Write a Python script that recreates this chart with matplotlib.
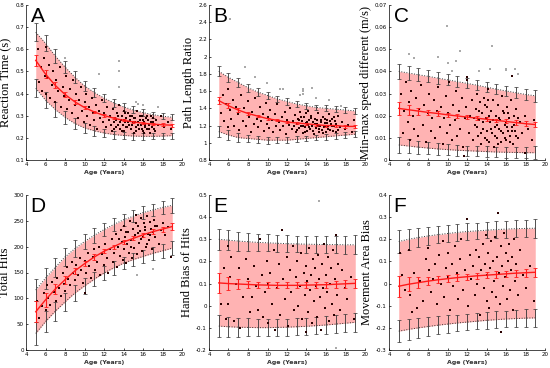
import numpy as np
import matplotlib
matplotlib.use('Agg')
import matplotlib.pyplot as plt

# ================= DATA =================
ages = [5, 6, 7, 8, 9, 10, 11, 12, 13, 14, 15, 16, 17, 18, 19]

# --- A: Reaction time ---
A_up = [0.677, 0.627, 0.57, 0.52, 0.475, 0.435, 0.405, 0.38, 0.358, 0.34, 0.326, 0.314, 0.305, 0.298, 0.293]
A_mean = [0.55, 0.488, 0.437, 0.396, 0.363, 0.337, 0.317, 0.301, 0.289, 0.279, 0.272, 0.266, 0.262, 0.259, 0.257]
A_low = [0.424, 0.37, 0.328, 0.293, 0.265, 0.245, 0.232, 0.222, 0.215, 0.211, 0.208, 0.207, 0.207, 0.208, 0.21]
A_band_err = [0.040, 0.036, 0.032, 0.029, 0.026, 0.024, 0.022, 0.020, 0.018, 0.017, 0.016, 0.015, 0.014, 0.014, 0.013]
A_mean_err = [0.025, 0.018, 0.013, 0.010, 0.008, 0.007, 0.006, 0.006, 0.005, 0.005, 0.005, 0.005, 0.005, 0.006, 0.007]
A_x = [5.2, 5.3, 5.5, 5.6, 5.8, 5.9, 6.0, 6.1, 6.2, 6.4, 6.5, 6.7, 6.8, 7.0, 7.1, 7.3, 7.5, 7.6, 7.8, 7.9,
       8.1, 8.2, 8.4, 8.5, 8.7, 8.8, 9.0, 9.1, 9.3, 9.4, 9.6, 9.7, 9.9, 10.0, 10.2, 10.3, 10.5, 10.6, 10.8, 10.9,
       11.0, 11.2, 11.3, 11.5, 11.6, 11.8, 11.9, 12.0, 12.2, 12.3, 12.5, 12.6, 12.8, 12.9, 13.0, 13.1, 13.2, 13.3,
       13.4, 13.5, 13.6, 13.7, 13.8, 13.9, 14.0, 14.1, 14.2, 14.3, 14.4, 14.5, 14.6, 14.7, 14.8, 14.9, 15.0, 15.1,
       15.2, 15.3, 15.4, 15.5, 15.6, 15.7, 15.8, 15.9, 16.0, 16.1, 16.2, 16.3, 16.4, 16.5, 16.6, 16.7, 16.8, 16.9,
       17.0, 17.1, 17.3, 17.5, 17.8, 18.2, 18.6, 18.9,
       12.7, 13.05, 13.25, 13.45, 13.65, 13.85, 14.05, 14.25, 14.45, 14.65, 14.85, 15.05, 15.25, 15.45, 15.65,
       15.85, 16.05, 16.25, 16.45, 16.65, 16.85, 17.05, 17.25, 14.15, 15.15, 16.15]
A_y = [0.60, 0.45, 0.52, 0.41, 0.56, 0.48, 0.61, 0.40, 0.47, 0.53, 0.38, 0.44, 0.50, 0.36, 0.46, 0.41, 0.52, 0.34, 0.43, 0.39,
       0.48, 0.33, 0.37, 0.42, 0.31, 0.46, 0.35, 0.40, 0.29, 0.37, 0.43, 0.32, 0.27, 0.36, 0.40, 0.30, 0.34, 0.26, 0.38, 0.31,
       0.28, 0.35, 0.24, 0.32, 0.29, 0.37, 0.27, 0.31, 0.25, 0.34, 0.28, 0.30, 0.23, 0.33, 0.27, 0.29, 0.25, 0.31,
       0.26, 0.35, 0.24, 0.28, 0.30, 0.26, 0.32, 0.23, 0.27, 0.29, 0.25, 0.31, 0.26, 0.28, 0.24, 0.30, 0.27, 0.22,
       0.29, 0.25, 0.32, 0.27, 0.24, 0.28, 0.26, 0.30, 0.23, 0.27, 0.25, 0.29, 0.24, 0.28, 0.26, 0.22, 0.30, 0.25,
       0.27, 0.24, 0.28, 0.26, 0.30, 0.25, 0.27, 0.24,
       0.26, 0.24, 0.28, 0.30, 0.27, 0.23, 0.28, 0.25, 0.27, 0.30, 0.26, 0.29, 0.23, 0.26, 0.30,
       0.24, 0.28, 0.26, 0.30, 0.24, 0.27, 0.29, 0.23, 0.31, 0.27, 0.22]
A_out_x = [8.0, 11.5, 13.5, 13.5, 13.5, 15.3, 15.5, 16.0, 17.5]
A_out_y = [0.56, 0.49, 0.545, 0.50, 0.43, 0.36, 0.355, 0.35, 0.34]

# --- B: Path length ratio ---
B_up = [1.83, 1.76, 1.70, 1.64, 1.59, 1.55, 1.51, 1.48, 1.45, 1.43, 1.41, 1.40, 1.39, 1.38, 1.37]
B_mean = [1.49, 1.43, 1.38, 1.34, 1.31, 1.28, 1.26, 1.24, 1.23, 1.22, 1.21, 1.20, 1.20, 1.19, 1.19]
B_low = [1.13, 1.09, 1.06, 1.05, 1.04, 1.03, 1.03, 1.03, 1.04, 1.05, 1.06, 1.07, 1.08, 1.09, 1.10]
B_band_err = [0.06, 0.055, 0.05, 0.045, 0.042, 0.04, 0.038, 0.036, 0.035, 0.034, 0.033, 0.033, 0.033, 0.034, 0.035]
B_mean_err = [0.04, 0.03, 0.022, 0.017, 0.014, 0.012, 0.011, 0.010, 0.010, 0.010, 0.010, 0.011, 0.012, 0.014, 0.016]
B_x = [5.2, 5.4, 5.5, 5.7, 5.9, 6.0, 6.2, 6.3, 6.5, 6.6, 6.8, 7.0, 7.1, 7.3, 7.5, 7.6, 7.8, 8.0, 8.1, 8.3,
       8.4, 8.6, 8.7, 8.9, 9.0, 9.2, 9.3, 9.5, 9.6, 9.8, 9.9, 10.0, 10.2, 10.3, 10.5, 10.6, 10.8, 10.9, 11.0, 11.2,
       11.3, 11.5, 11.6, 11.8, 11.9, 12.0, 12.2, 12.3, 12.5, 12.6, 12.8, 12.9, 13.0, 13.1, 13.2, 13.3, 13.4, 13.5,
       13.6, 13.7, 13.8, 13.9, 14.0, 14.1, 14.2, 14.3, 14.4, 14.5, 14.6, 14.7, 14.8, 14.9, 15.0, 15.1, 15.2, 15.3,
       15.4, 15.5, 15.6, 15.7, 15.8, 15.9, 16.0, 16.1, 16.2, 16.3, 16.4, 16.5, 16.6, 16.7, 16.8, 16.9, 17.0, 17.2,
       17.4, 17.6, 17.9, 18.3, 18.7, 18.9,
       12.7, 13.05, 13.25, 13.45, 13.65, 13.85, 14.05, 14.25, 14.45, 14.65, 14.85, 15.05, 15.25, 15.45, 15.65,
       15.85, 16.05, 16.25, 16.45, 16.65, 16.85, 17.05, 17.25, 14.15, 15.15, 16.15]
B_y = [1.35, 1.55, 1.25, 1.45, 1.18, 1.62, 1.38, 1.28, 1.50, 1.20, 1.42, 1.33, 1.15, 1.55, 1.25, 1.40, 1.20, 1.48, 1.30, 1.12,
       1.36, 1.22, 1.52, 1.28, 1.18, 1.42, 1.25, 1.33, 1.14, 1.46, 1.22, 1.30, 1.17, 1.38, 1.26, 1.12, 1.33, 1.20, 1.45, 1.24,
       1.15, 1.30, 1.19, 1.36, 1.10, 1.27, 1.21, 1.40, 1.16, 1.25, 1.32, 1.12, 1.22, 1.28, 1.17, 1.36, 1.20, 1.25,
       1.11, 1.30, 1.18, 1.23, 1.34, 1.14, 1.21, 1.27, 1.16, 1.31, 1.19, 1.24, 1.10, 1.28, 1.17, 1.22, 1.35, 1.13,
       1.20, 1.26, 1.15, 1.30, 1.18, 1.23, 1.12, 1.27, 1.19, 1.33, 1.15, 1.22, 1.28, 1.14, 1.20, 1.25, 1.13, 1.31,
       1.18, 1.24, 1.16, 1.21, 1.13, 1.26,
       1.20, 1.15, 1.26, 1.30, 1.19, 1.13, 1.24, 1.18, 1.29, 1.14, 1.22, 1.27, 1.16, 1.24, 1.11,
       1.28, 1.20, 1.16, 1.25, 1.19, 1.30, 1.22, 1.15, 1.37, 1.19, 1.23]
B_out_x = [6.2, 7.7, 8.7, 9.9, 11.3, 11.6, 13.3, 13.6, 13.6, 13.6, 14.6, 16.3, 17.5, 15.0]
B_out_y = [2.44, 1.88, 1.76, 1.69, 1.63, 1.63, 1.55, 1.62, 1.60, 1.57, 1.64, 1.50, 1.43, 1.52]

# --- C: Min-max speed difference ---
C_up = [0.040, 0.0393, 0.0385, 0.0378, 0.0370, 0.0362, 0.0354, 0.0346, 0.0338, 0.0329, 0.0320, 0.0312, 0.0304, 0.0296, 0.0290]
C_mean = [0.0233, 0.0227, 0.0221, 0.0215, 0.0210, 0.0204, 0.0199, 0.0194, 0.0189, 0.0184, 0.0179, 0.0174, 0.0169, 0.0164, 0.0160]
C_low = [0.0068, 0.0063, 0.0058, 0.0054, 0.0050, 0.0047, 0.0044, 0.0042, 0.0040, 0.0038, 0.0036, 0.0035, 0.0034, 0.0033, 0.0033]
C_band_err = [0.0035, 0.0033, 0.003, 0.0028, 0.0026, 0.0025, 0.0024, 0.0023, 0.0023, 0.0023, 0.0023, 0.0024, 0.0025, 0.0026, 0.0028]
C_mean_err = [0.003, 0.0022, 0.0016, 0.0012, 0.001, 0.0009, 0.0008, 0.0008, 0.0008, 0.0008, 0.0008, 0.0009, 0.001, 0.0011, 0.0013]
C_x = [5.2, 5.4, 5.5, 5.7, 5.9, 6.0, 6.2, 6.3, 6.5, 6.6, 6.8, 7.0, 7.1, 7.3, 7.5, 7.6, 7.8, 8.0, 8.1, 8.3,
       8.4, 8.6, 8.7, 8.9, 9.0, 9.2, 9.3, 9.5, 9.6, 9.8, 9.9, 10.0, 10.2, 10.3, 10.5, 10.6, 10.8, 10.9, 11.0, 11.2,
       11.3, 11.5, 11.6, 11.8, 11.9, 12.0, 12.2, 12.3, 12.5, 12.6, 12.8, 12.9, 13.0, 13.1, 13.2, 13.3, 13.4, 13.5,
       13.6, 13.7, 13.8, 13.9, 14.0, 14.1, 14.2, 14.3, 14.4, 14.5, 14.6, 14.7, 14.8, 14.9, 15.0, 15.1, 15.2, 15.3,
       15.4, 15.5, 15.6, 15.7, 15.8, 15.9, 16.0, 16.1, 16.2, 16.3, 16.4, 16.5, 16.6, 16.7, 16.8, 16.9, 17.0, 17.2,
       17.4, 17.6, 17.9, 18.3, 18.7, 18.9,
       12.7, 13.05, 13.25, 13.45, 13.65, 13.85, 14.05, 14.25, 14.45, 14.65, 14.85, 15.05, 15.25, 15.45, 15.65,
       15.85, 16.05, 16.25, 16.45, 16.65, 16.85, 17.05, 17.25, 14.15, 15.15, 16.15, 11.7, 17.9, 12.0, 16.6]
C_y = [0.030, 0.012, 0.022, 0.035, 0.017, 0.026, 0.009, 0.031, 0.020, 0.014, 0.028, 0.011, 0.023, 0.034, 0.016, 0.025, 0.008, 0.021, 0.030, 0.013,
       0.019, 0.027, 0.010, 0.022, 0.033, 0.015, 0.024, 0.007, 0.019, 0.029, 0.012, 0.021, 0.035, 0.016, 0.009, 0.025, 0.018, 0.031, 0.011, 0.022,
       0.014, 0.028, 0.006, 0.019, 0.024, 0.036, 0.012, 0.020, 0.027, 0.009, 0.016, 0.023, 0.030, 0.011, 0.018, 0.026, 0.007, 0.021,
       0.014, 0.028, 0.010, 0.019, 0.024, 0.013, 0.032, 0.008, 0.017, 0.022, 0.012, 0.027, 0.006, 0.015, 0.020, 0.010, 0.025, 0.014,
       0.018, 0.008, 0.029, 0.012, 0.021, 0.016, 0.009, 0.024, 0.013, 0.019, 0.011, 0.027, 0.015, 0.007, 0.020, 0.013, 0.023, 0.010,
       0.017, 0.012, 0.020, 0.014, 0.009, 0.018,
       0.019, 0.015, 0.022, 0.012, 0.017, 0.025, 0.009, 0.020, 0.014, 0.018, 0.011, 0.016, 0.019, 0.013, 0.022,
       0.010, 0.017, 0.021, 0.008, 0.013, 0.016, 0.011, 0.019, 0.027, 0.007, 0.015, 0.002, 0.003, 0.0375, 0.038]
C_out_x = [6.0, 6.6, 9.0, 9.9, 10.0, 10.9, 11.3, 10.5, 13.2, 14.4, 14.6, 16.0, 16.0, 16.9, 17.2]
C_out_y = [0.048, 0.046, 0.0465, 0.0605, 0.044, 0.0445, 0.049, 0.040, 0.040, 0.041, 0.0515, 0.041, 0.0405, 0.041, 0.039]

# --- D: Total hits ---
D_up = [116, 139, 160, 180, 196, 210, 222, 233, 243, 252, 259, 266, 271, 276, 280]
D_mean = [74, 97, 118, 136, 153, 167, 180, 191, 200, 209, 216, 223, 229, 234, 239]
D_low = [32, 55, 75, 93, 110, 124, 137, 149, 159, 168, 175, 181, 187, 192, 197]
D_band_err = [22, 20, 18, 17, 16, 15, 14, 13, 13, 12, 12, 12, 12, 13, 14]
D_mean_err = [20, 14, 10, 8, 6, 5, 5, 4, 4, 4, 4, 4, 5, 5, 6]
D_x = [5.1, 5.3, 5.6, 5.8, 6.0, 6.2, 6.3, 6.5, 6.7, 6.9, 7.1, 7.2, 7.4, 7.6, 7.8, 7.9, 8.0, 8.2, 8.3, 8.5,
       8.7, 8.8, 9.0, 9.1, 9.3, 9.5, 9.6, 9.8, 10.0, 10.1, 10.2, 10.4, 10.5, 10.7, 10.9, 11.0, 11.1, 11.3, 11.5, 11.6,
       11.8, 12.0, 12.1, 12.3, 12.4, 12.6, 12.8, 12.9, 13.0, 13.2, 13.3, 13.4, 13.6, 13.7, 13.8, 13.9, 14.0, 14.1,
       14.2, 14.3, 14.4, 14.5, 14.6, 14.7, 14.8, 14.9, 15.0, 15.1, 15.2, 15.3, 15.4, 15.5, 15.6, 15.7, 15.8, 15.9,
       16.0, 16.1, 16.2, 16.3, 16.4, 16.5, 16.6, 16.7, 16.8, 16.9, 17.0, 17.1, 17.2, 17.4, 17.6, 17.8, 18.0, 18.3,
       18.6, 18.9, 13.5, 14.25, 14.75, 15.25, 15.75, 16.25, 16.75, 17.25, 15.45, 16.45]
D_y = [95, 62, 85, 110, 78, 125, 100, 88, 132, 112, 95, 140, 120, 105, 150, 128, 115, 160, 138, 125,
       170, 150, 135, 165, 145, 178, 155, 130, 172, 110, 150, 188, 162, 140, 180, 195, 155, 170, 200, 145,
       185, 165, 205, 178, 150, 195, 215, 170, 188, 225, 160, 200, 182, 232, 210, 175, 195, 240,
       218, 168, 205, 228, 188, 250, 212, 178, 235, 198, 222, 262, 185, 240, 208, 230, 255, 192,
       218, 245, 232, 200, 260, 225, 212, 248, 235, 195, 228, 252, 218, 240, 205, 232, 245, 222,
       238, 180, 215, 228, 200, 245, 215, 238, 222, 240, 226, 205]
D_out_x = [15.4, 17.0]
D_out_y = [145, 157]

# --- E: Hand bias of hits ---
E_up = [0.300, 0.296, 0.292, 0.289, 0.286, 0.284, 0.282, 0.280, 0.279, 0.278, 0.277, 0.276, 0.276, 0.275, 0.275]
E_mean = [0.103, 0.100, 0.098, 0.096, 0.094, 0.093, 0.092, 0.092, 0.092, 0.093, 0.094, 0.095, 0.097, 0.099, 0.101]
E_low = [-0.092, -0.095, -0.097, -0.098, -0.099, -0.099, -0.098, -0.097, -0.095, -0.093, -0.090, -0.087, -0.083, -0.079, -0.075]
E_band_err = [0.048, 0.045, 0.043, 0.041, 0.040, 0.039, 0.038, 0.038, 0.038, 0.038, 0.038, 0.039, 0.040, 0.041, 0.043]
E_mean_err = [0.045, 0.030, 0.022, 0.017, 0.015, 0.014, 0.013, 0.013, 0.013, 0.013, 0.013, 0.014, 0.015, 0.017, 0.020]
E_x = [5.2, 5.5, 5.7, 5.9, 6.0, 6.2, 6.3, 6.6, 6.8, 7.1, 7.2, 7.5, 7.8, 8.0, 8.2, 8.4, 8.6, 8.8, 9.0, 9.2,
       9.4, 9.5, 9.7, 9.9, 10.0, 10.1, 10.3, 10.5, 10.7, 10.8, 11.0, 11.2, 11.3, 11.5, 11.6, 11.8, 12.0, 12.1, 12.3, 12.4,
       12.6, 12.7, 12.9, 13.0, 13.1, 13.3, 13.4, 13.5, 13.7, 13.8, 13.9, 14.0, 14.1, 14.2, 14.3, 14.4, 14.5, 14.6,
       14.7, 14.8, 14.9, 15.0, 15.1, 15.2, 15.3, 15.4, 15.5, 15.6, 15.7, 15.8, 15.9, 16.0, 16.1, 16.2, 16.3, 16.4,
       16.5, 16.6, 16.7, 16.8, 16.9, 17.0, 17.1, 17.2, 17.4, 17.6, 17.9, 18.2, 18.6, 18.9]
E_y = [0.01, 0.17, -0.06, 0.27, 0.01, 0.13, 0.22, -0.07, 0.10, 0.17, -0.10, 0.04, 0.21, 0.12, -0.03, 0.04, 0.18, 0.09, -0.02, 0.30,
       0.14, -0.05, 0.06, 0.20, 0.10, -0.08, 0.15, 0.01, 0.25, -0.11, 0.08, 0.19, -0.04, 0.34, 0.12, 0.03, 0.22, -0.09, 0.16, 0.06,
       0.27, -0.02, 0.13, 0.20, 0.00, 0.09, 0.24, -0.06, 0.15, 0.05, -0.12, 0.18, 0.11, -0.03, 0.26, 0.07, 0.14, -0.08,
       0.21, 0.02, 0.17, 0.09, -0.05, 0.23, 0.12, 0.04, -0.11, 0.19, 0.08, 0.28, -0.01, 0.14, 0.06, 0.22, -0.07, 0.10,
       0.17, 0.01, 0.25, -0.04, 0.12, 0.32, 0.05, 0.19, -0.02, 0.16, 0.08, 0.03, 0.13, -0.06]
E_out_x = [15.3, 17.0]
E_out_y = [0.475, -0.19]

# --- F: Movement area bias ---
F_up = [0.190, 0.200, 0.208, 0.215, 0.221, 0.226, 0.231, 0.235, 0.238, 0.241, 0.244, 0.246, 0.248, 0.249, 0.250]
F_mean = [-0.012, -0.003, 0.004, 0.011, 0.017, 0.022, 0.027, 0.031, 0.035, 0.038, 0.041, 0.044, 0.047, 0.049, 0.051]
F_low = [-0.215, -0.207, -0.200, -0.194, -0.188, -0.183, -0.178, -0.174, -0.170, -0.166, -0.163, -0.160, -0.158, -0.156, -0.155]
F_band_err = [0.050, 0.047, 0.044, 0.042, 0.040, 0.039, 0.038, 0.037, 0.037, 0.037, 0.037, 0.038, 0.039, 0.040, 0.042]
F_mean_err = [0.048, 0.032, 0.024, 0.019, 0.016, 0.015, 0.014, 0.014, 0.014, 0.014, 0.014, 0.015, 0.016, 0.018, 0.021]
F_x = [5.1, 5.3, 5.6, 6.0, 6.2, 6.4, 6.6, 6.9, 7.2, 7.5, 7.8, 8.0, 8.1, 8.3, 8.5, 8.7, 8.9, 9.1, 9.3, 9.5,
       9.6, 9.8, 10.0, 10.1, 10.3, 10.5, 10.6, 10.8, 11.0, 11.1, 11.3, 11.4, 11.6, 11.8, 12.0, 12.1, 12.3, 12.4, 12.6, 12.8,
       12.9, 13.0, 13.2, 13.3, 13.4, 13.6, 13.7, 13.8, 13.9, 14.0, 14.1, 14.2, 14.3, 14.4, 14.5, 14.6, 14.7, 14.8,
       14.9, 15.0, 15.1, 15.2, 15.3, 15.4, 15.5, 15.5, 15.6, 15.7, 15.8, 15.9, 16.0, 16.1, 16.2, 16.3, 16.4, 16.5,
       16.6, 16.7, 16.8, 16.9, 17.0, 17.2, 17.4, 17.7, 18.0, 18.5, 18.9]
F_y = [0.14, 0.04, -0.03, 0.15, -0.05, -0.13, 0.05, -0.11, 0.01, -0.08, 0.11, 0.16, 0.06, -0.04, 0.02, 0.09, -0.09, 0.13, 0.00, 0.19,
       -0.06, 0.07, 0.03, 0.14, -0.12, 0.09, -0.01, 0.17, 0.05, -0.07, 0.11, 0.20, -0.03, 0.06, 0.29, -0.10, 0.13, 0.02, 0.08, -0.05,
       0.15, 0.00, 0.12, -0.14, 0.06, 0.18, -0.02, 0.09, 0.22, -0.08, 0.04, 0.14, -0.11, 0.07, 0.19, -0.04, 0.10, 0.01,
       0.21, -0.06, 0.12, 0.32, 0.05, -0.09, 0.17, -0.22, 0.08, -0.01, 0.23, 0.03, 0.14, -0.07, 0.10, 0.18, -0.03, 0.06,
       0.12, -0.12, 0.20, 0.01, 0.09, -0.05, 0.15, 0.04, -0.02, 0.08, -0.08]
F_out_x = []
F_out_y = []

panels = [
    ('A', 'Reaction Time (s)', A_x, A_y, A_out_x, A_out_y, A_up, A_mean, A_low, A_band_err, A_mean_err,
     (0.1, 0.8), [0.1, 0.2, 0.3, 0.4, 0.5, 0.6, 0.7, 0.8]),
    ('B', 'Path Length Ratio', B_x, B_y, B_out_x, B_out_y, B_up, B_mean, B_low, B_band_err, B_mean_err,
     (0.8, 2.6), [0.8, 1, 1.2, 1.4, 1.6, 1.8, 2, 2.2, 2.4, 2.6]),
    ('C', 'Min-max speed different (m/s)', C_x, C_y, C_out_x, C_out_y, C_up, C_mean, C_low, C_band_err, C_mean_err,
     (0, 0.07), [0, 0.01, 0.02, 0.03, 0.04, 0.05, 0.06, 0.07]),
    ('D', 'Total Hits', D_x, D_y, D_out_x, D_out_y, D_up, D_mean, D_low, D_band_err, D_mean_err,
     (0, 300), [0, 50, 100, 150, 200, 250, 300]),
    ('E', 'Hand Bias of Hits', E_x, E_y, E_out_x, E_out_y, E_up, E_mean, E_low, E_band_err, E_mean_err,
     (-0.2, 0.5), [-0.2, -0.1, 0, 0.1, 0.2, 0.3, 0.4, 0.5]),
    ('F', 'Movement Area Bias', F_x, F_y, F_out_x, F_out_y, F_up, F_mean, F_low, F_band_err, F_mean_err,
     (-0.3, 0.4), [-0.3, -0.2, -0.1, 0, 0.1, 0.2, 0.3, 0.4]),
]

# axes boxes in pixels (left, top) of a 550x368 canvas
W, H = 550, 368
boxes = [(26, 5), (209, 5), (389, 5), (26, 195), (209, 195), (389, 195)]
AW, AH = 156, 155

BAND_COLOR = '#ffb3b3'
MEAN_COLOR = '#ff1a1a'


def fmt(v):
    s = ('%.2f' % v).rstrip('0').rstrip('.')
    return '0' if s in ('-0', '') else s


fig = plt.figure(figsize=(5.5, 3.68), dpi=100)

for (letter, ylabel, px, py, ox, oy, up, mean, low, berr, merr, ylim, yticks), (l, t) in zip(panels, boxes):
    ax = fig.add_axes([l / W, 1 - (t + AH) / H, AW / W, AH / H])

    ax.fill_between(ages, low, up, color=BAND_COLOR, lw=0, zorder=1)
    for edge in (up, low):
        ax.plot(ages, edge, ls=':', color='#333333', lw=0.7, zorder=2)
        ax.errorbar(ages, edge, yerr=berr, fmt='none', ecolor='#333333',
                    elinewidth=0.6, capsize=1.2, capthick=0.5, zorder=2)

    if ox:
        ax.scatter(ox, oy, s=3, marker='s', color='#aaaaaa', lw=0, zorder=3)
    ax.scatter(px, py, s=3, marker='s', color='#2a0000', lw=0, zorder=3)

    ax.plot(ages, mean, color=MEAN_COLOR, lw=1.0, zorder=4)
    ax.errorbar(ages, mean, yerr=merr, fmt='none', ecolor=MEAN_COLOR,
                elinewidth=0.8, capsize=1.5, capthick=0.6, zorder=4)

    ax.set_xlim(4, 20)
    ax.set_ylim(*ylim)
    ax.set_xticks(range(4, 21, 2))
    ax.set_yticks(yticks)
    ax.set_yticklabels([fmt(v) for v in yticks])
    ax.tick_params(direction='in', length=1.5, width=0.5, labelsize=4, pad=1.5)
    for side in ('top', 'right'):
        ax.spines[side].set_visible(False)
    for side in ('left', 'bottom'):
        ax.spines[side].set_linewidth(0.5)

    ax.set_xlabel('Age (Years)', fontsize=4.5, fontweight='bold', color='#333333', labelpad=2)
    ax.set_ylabel(ylabel, fontsize=9, family='Liberation Serif', labelpad=2)
    ax.text(0.03, 0.99, letter, transform=ax.transAxes, fontsize=15,
            family='Liberation Sans', va='top', ha='left', zorder=5)

fig.savefig('out.png', dpi=100)
